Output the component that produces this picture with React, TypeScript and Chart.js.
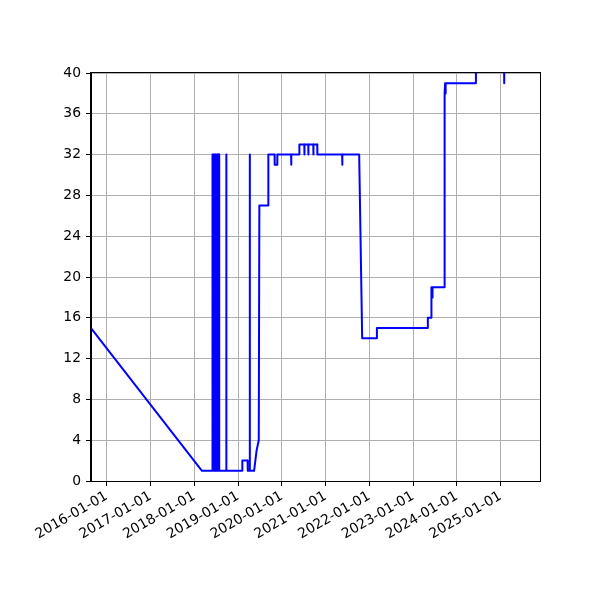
import { useEffect, useRef } from "react"
import { Chart, registerables } from "chart.js"

Chart.register(...registerables)

// sample dates and values
const dates = [
  "2015-08-23", "2018-03-06", "2018-06-01", "2018-06-02", "2018-06-07", "2018-06-08",
  "2018-06-09", "2018-06-13", "2018-06-14", "2018-06-15", "2018-06-19", "2018-06-20",
  "2018-06-21", "2018-06-25", "2018-06-26", "2018-06-27", "2018-07-01", "2018-07-02",
  "2018-07-03", "2018-07-07", "2018-07-08", "2018-07-09", "2018-07-13", "2018-07-14",
  "2018-07-15", "2018-07-19", "2018-07-20", "2018-07-21", "2018-07-27", "2018-07-28",
  "2018-09-23", "2018-09-24", "2018-09-26", "2018-09-27", "2019-02-05", "2019-02-06",
  "2019-03-22", "2019-03-23", "2019-04-08", "2019-04-09", "2019-04-10", "2019-05-15",
  "2019-06-05", "2019-06-23", "2019-06-28", "2019-09-10", "2019-09-11", "2019-11-02",
  "2019-11-03", "2019-11-24", "2019-11-25", "2020-03-19", "2020-03-20", "2020-03-21",
  "2020-05-26", "2020-05-27", "2020-07-07", "2020-07-08", "2020-07-09", "2020-08-09",
  "2020-08-10", "2020-08-11", "2020-09-20", "2020-09-21", "2020-09-22", "2020-10-23",
  "2020-10-24", "2021-05-19", "2021-05-20", "2021-05-21", "2021-10-08", "2021-11-02",
  "2022-03-04", "2022-03-05", "2023-05-03", "2023-05-04", "2023-05-31", "2023-06-01",
  "2023-06-05", "2023-06-08", "2023-06-12", "2023-09-17", "2023-09-18", "2023-09-24",
  "2023-09-25", "2023-09-28", "2023-10-01", "2024-06-08", "2024-06-09", "2025-01-29",
  "2025-01-30", "2025-01-31", "2025-11-25",
]

const values = [
  15, 1, 1, 32, 32, 1,
  32, 32, 1, 32, 32, 1,
  32, 32, 1, 32, 32, 1,
  32, 32, 1, 32, 32, 1,
  32, 32, 1, 32, 32, 1,
  1, 32, 32, 1, 1, 2,
  2, 1, 1, 32, 1, 1,
  3, 4, 27, 27, 32, 32,
  31, 31, 32, 32, 31, 32,
  32, 33, 33, 32, 33, 33,
  32, 33, 33, 32, 33, 33,
  32, 32, 31, 32, 32, 14,
  14, 15, 15, 16, 16, 18,
  19, 18, 19, 19, 38, 38,
  39, 38, 39, 39, 41, 41,
  39, 41, 41,
]

const yearTicks = [2016, 2017, 2018, 2019, 2020, 2021, 2022, 2023, 2024, 2025]
const yTicks = [0, 4, 8, 12, 16, 20, 24, 28, 32, 36, 40]
const xStart = "2015-08-23"
const xEnd = "2025-11-25"

const font = { family: "DejaVu Sans", size: 13.9 }

const spines = {
  id: "spines",
  afterDatasetsDraw(chart: Chart) {
    const { ctx, chartArea: a } = chart
    ctx.save()
    ctx.strokeStyle = "#000"
    ctx.lineWidth = 1
    ctx.strokeRect(
      Math.round(a.left) - 0.5,
      Math.round(a.top) - 0.5,
      Math.round(a.right - a.left) + 1,
      Math.round(a.bottom - a.top) + 1,
    )
    ctx.restore()
  },
}

export default function App() {
  const chartRef = useRef<HTMLCanvasElement>(null)

  useEffect(() => {
    if (!chartRef.current) return
    document.body.style.margin = "0"

    const points = dates.map((d, i) => ({ x: Date.parse(d), y: values[i] }))

    const chart = new Chart(chartRef.current, {
      type: "line",
      data: {
        datasets: [
          {
            data: points,
            borderColor: "#0000ff",
            borderWidth: 2,
            borderJoinStyle: "round",
            pointRadius: 0,
            tension: 0,
            fill: false,
          },
        ],
      },
      options: {
        animation: false,
        responsive: false,
        layout: { padding: { left: 0, top: 73, right: 60, bottom: 0 } },
        plugins: {
          legend: { display: false },
          tooltip: { enabled: false },
        },
        scales: {
          x: {
            type: "linear",
            min: Date.parse(xStart),
            max: Date.parse(xEnd),
            afterBuildTicks: (scale: any) => {
              scale.ticks = yearTicks.map((y) => ({ value: Date.UTC(y, 0, 1) }))
            },
            afterFit: (scale: any) => {
              scale.height = 119
            },
            ticks: {
              callback: (v: any) => new Date(Number(v)).toISOString().slice(0, 10),
              autoSkip: false,
              maxRotation: 30,
              minRotation: 30,
              color: "#000",
              padding: 2,
              font,
            },
            grid: { color: "#b0b0b0", lineWidth: 1, tickColor: "#000", tickLength: 5 },
            border: { color: "#000", width: 1 },
          },
          y: {
            type: "linear",
            min: 0,
            max: 40,
            afterBuildTicks: (scale: any) => {
              scale.ticks = yTicks.map((v) => ({ value: v }))
            },
            afterFit: (scale: any) => {
              scale.width = 91
            },
            ticks: { color: "#000", padding: 5, font },
            grid: { color: "#b0b0b0", lineWidth: 1, tickColor: "#000", tickLength: 5 },
            border: { color: "#000", width: 1 },
          },
        },
      },
      plugins: [spines],
    })

    return () => {
      chart.destroy()
    }
  }, [])

  return (
    <div style={{ position: "absolute", left: 0, top: 0, width: 600, height: 600, background: "#fff" }}>
      <canvas ref={chartRef} width={600} height={600} />
    </div>
  )
}
